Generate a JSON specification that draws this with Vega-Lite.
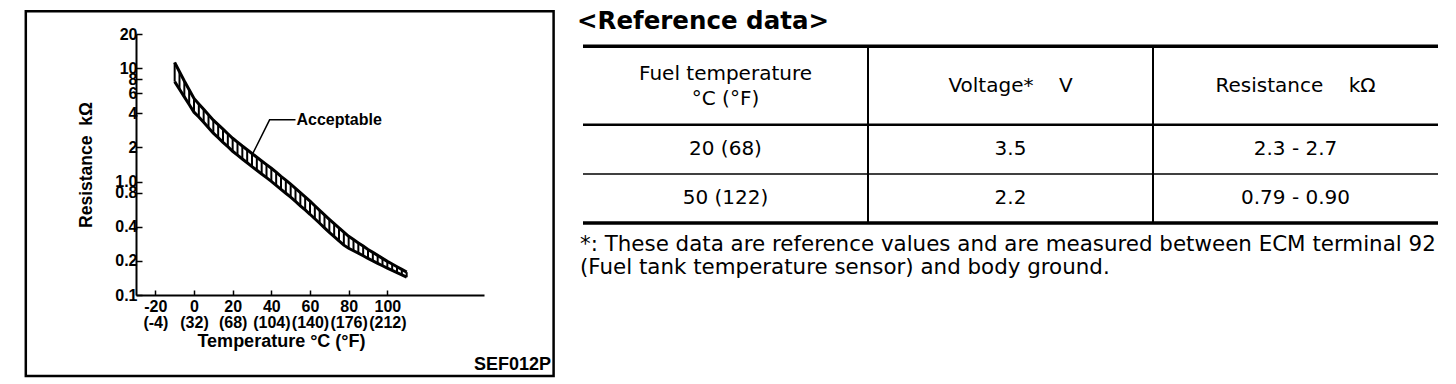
{
  "$schema": "https://vega.github.io/schema/vega-lite/v6.json",
  "background": "white",
  "padding": {"left": 24, "top": 8, "right": 0, "bottom": 0},
  "autosize": {"type": "pad"},
  "spacing": 22,
  "config": {
    "view": {"stroke": null},
    "font": "DejaVu Sans",
    "axis": {
      "grid": false,
      "domainColor": "black",
      "domainWidth": 2,
      "tickColor": "black",
      "tickWidth": 1.5,
      "labelColor": "black",
      "titleColor": "black",
      "labelFont": "Liberation Sans",
      "titleFont": "Liberation Sans",
      "labelFontSize": 16,
      "titleFontSize": 18,
      "labelFontWeight": "bold",
      "titleFontWeight": "bold"
    }
  },
  "datasets": {
    "band": [
      {"t": -10, "hi": 11.2, "lo": 7.6},
      {"t": -7.5, "hi": 9.3, "lo": 6.51},
      {"t": -5, "hi": 7.7, "lo": 5.58},
      {"t": -2.5, "hi": 6.45, "lo": 4.78},
      {"t": 0, "hi": 5.4, "lo": 4.09},
      {"t": 2.5, "hi": 4.84, "lo": 3.71},
      {"t": 5, "hi": 4.34, "lo": 3.33},
      {"t": 7.5, "hi": 3.89, "lo": 2.98},
      {"t": 10, "hi": 3.48, "lo": 2.67},
      {"t": 12.5, "hi": 3.18, "lo": 2.44},
      {"t": 15, "hi": 2.9, "lo": 2.22},
      {"t": 17.5, "hi": 2.64, "lo": 2.03},
      {"t": 20, "hi": 2.41, "lo": 1.85},
      {"t": 22.5, "hi": 2.23, "lo": 1.71},
      {"t": 25, "hi": 2.06, "lo": 1.58},
      {"t": 27.5, "hi": 1.91, "lo": 1.465},
      {"t": 30, "hi": 1.77, "lo": 1.355},
      {"t": 32.5, "hi": 1.64, "lo": 1.257},
      {"t": 35, "hi": 1.52, "lo": 1.167},
      {"t": 37.5, "hi": 1.41, "lo": 1.083},
      {"t": 40, "hi": 1.31, "lo": 1.005},
      {"t": 42.5, "hi": 1.21, "lo": 0.927},
      {"t": 45, "hi": 1.11, "lo": 0.855},
      {"t": 47.5, "hi": 1.03, "lo": 0.789},
      {"t": 50, "hi": 0.948, "lo": 0.728},
      {"t": 52.5, "hi": 0.87, "lo": 0.668},
      {"t": 55, "hi": 0.798, "lo": 0.612},
      {"t": 57.5, "hi": 0.732, "lo": 0.562},
      {"t": 60, "hi": 0.671, "lo": 0.515},
      {"t": 62.5, "hi": 0.612, "lo": 0.47},
      {"t": 65, "hi": 0.558, "lo": 0.429},
      {"t": 67.5, "hi": 0.509, "lo": 0.391},
      {"t": 70, "hi": 0.465, "lo": 0.356},
      {"t": 72.5, "hi": 0.426, "lo": 0.327},
      {"t": 75, "hi": 0.391, "lo": 0.3},
      {"t": 77.5, "hi": 0.358, "lo": 0.275},
      {"t": 80, "hi": 0.329, "lo": 0.258},
      {"t": 82.5, "hi": 0.308, "lo": 0.2455},
      {"t": 85, "hi": 0.288, "lo": 0.234},
      {"t": 87.5, "hi": 0.27, "lo": 0.2217},
      {"t": 90, "hi": 0.252, "lo": 0.21},
      {"t": 92.5, "hi": 0.2375, "lo": 0.2},
      {"t": 95, "hi": 0.2236, "lo": 0.1903},
      {"t": 97.5, "hi": 0.2104, "lo": 0.1812},
      {"t": 100, "hi": 0.198, "lo": 0.1726},
      {"t": 102.5, "hi": 0.1875, "lo": 0.1649},
      {"t": 105, "hi": 0.1776, "lo": 0.1576},
      {"t": 107.5, "hi": 0.1681, "lo": 0.1505},
      {"t": 110, "hi": 0.159, "lo": 0.1435}
    ],
    "leader": [
      {"t": 30.5, "v": 1.78},
      {"t": 39.1, "v": 3.5},
      {"t": 52.5, "v": 3.5}
    ],
    "cells": [
      {"col": 0.5, "row": 0.8, "text": "Fuel temperature\n°C (°F)", "lines": 2},
      {"col": 1.5, "row": 0.8, "text": "Voltage*\u00a0\u00a0\u00a0\u00a0V", "lines": 1},
      {"col": 2.5, "row": 0.8, "text": "Resistance\u00a0\u00a0\u00a0\u00a0kΩ", "lines": 1},
      {"col": 0.5, "row": 2.1, "text": "20 (68)", "lines": 1},
      {"col": 1.5, "row": 2.1, "text": "3.5", "lines": 1},
      {"col": 2.5, "row": 2.1, "text": "2.3 - 2.7", "lines": 1},
      {"col": 0.5, "row": 3.1, "text": "50 (122)", "lines": 1},
      {"col": 1.5, "row": 3.1, "text": "2.2", "lines": 1},
      {"col": 2.5, "row": 3.1, "text": "0.79 - 0.90", "lines": 1}
    ],
    "hlines": [
      {"row": 0, "weight": "heavy"},
      {"row": 1.6, "weight": "medium"},
      {"row": 2.6, "weight": "light"},
      {"row": 3.6, "weight": "heavy"}
    ],
    "vlines": [
      {"col": 1},
      {"col": 2}
    ],
    "one": [{}]
  },
  "hconcat": [
    {
      "width": 348,
      "height": 261,
      "layer": [
        {
          "data": {"name": "band"},
          "mark": {"type": "rule", "color": "black", "strokeWidth": 2},
          "encoding": {
            "x": {
              "field": "t", "type": "quantitative",
              "scale": {"domain": [-30, 150], "nice": false, "zero": false},
              "axis": {
                "title": "Temperature °C (°F)",
                "titleX": 145,
                "values": [-20, 0, 20, 40, 60, 80, 100],
                "labelExpr": "['' + datum.value, '(' + (datum.value * 9 / 5 + 32) + ')']",
                "labelLineHeight": 16,
                "tickSize": -5,
                "labelPadding": 8,
                "titlePadding": 2,
                "labelOverlap": false
              }
            },
            "y": {
              "field": "lo", "type": "quantitative",
              "scale": {"type": "log", "domain": [0.1, 20], "nice": false},
              "axis": {
                "title": "Resistance\u00a0\u00a0kΩ",
                "titleFontSize": 17.5,
                "values": [0.1, 0.2, 0.4, 0.8, 1, 2, 4, 6, 8, 10, 20],
                "labelExpr": "datum.value == 1 ? '1.0' : (datum.value < 1 ? format(datum.value, '.1f') : format(datum.value, 'd'))",
                "tickSize": -6,
                "labelPadding": 5,
                "titlePadding": 19,
                "labelOverlap": false,
                "labelBound": false
              }
            },
            "y2": {"field": "hi"}
          }
        },
        {
          "data": {"name": "band"},
          "mark": {"type": "line", "color": "black", "strokeWidth": 3},
          "encoding": {
            "x": {"field": "t", "type": "quantitative", "scale": {"domain": [-30, 150], "nice": false, "zero": false}},
            "y": {"field": "hi", "type": "quantitative", "scale": {"type": "log", "domain": [0.1, 20], "nice": false}}
          }
        },
        {
          "data": {"name": "band"},
          "mark": {"type": "line", "color": "black", "strokeWidth": 3},
          "encoding": {
            "x": {"field": "t", "type": "quantitative", "scale": {"domain": [-30, 150], "nice": false, "zero": false}},
            "y": {"field": "lo", "type": "quantitative", "scale": {"type": "log", "domain": [0.1, 20], "nice": false}}
          }
        },
        {
          "data": {"name": "leader"},
          "mark": {"type": "line", "color": "black", "strokeWidth": 1.5},
          "encoding": {
            "x": {"field": "t", "type": "quantitative", "scale": {"domain": [-30, 150], "nice": false, "zero": false}},
            "y": {"field": "v", "type": "quantitative", "scale": {"type": "log", "domain": [0.1, 20], "nice": false}}
          }
        },
        {
          "data": {"name": "one"},
          "mark": {"type": "text", "align": "left", "baseline": "middle", "font": "Liberation Sans", "fontSize": 16, "fontWeight": "bold", "color": "black", "dx": 1},
          "encoding": {
            "x": {"datum": 52.5, "type": "quantitative", "scale": {"domain": [-30, 150], "nice": false, "zero": false}},
            "y": {"datum": 3.5, "type": "quantitative", "scale": {"type": "log", "domain": [0.1, 20], "nice": false}},
            "text": {"value": "Acceptable"}
          }
        },
        {
          "data": {"name": "one"},
          "mark": {"type": "rect", "fill": null, "stroke": "black", "strokeWidth": 2.5, "clip": false},
          "encoding": {
            "x": {"datum": -87, "type": "quantitative", "scale": {"domain": [-30, 150], "nice": false, "zero": false}},
            "x2": {"datum": 186},
            "y": {"datum": 31.8, "type": "quantitative", "scale": {"type": "log", "domain": [0.1, 20], "nice": false}},
            "y2": {"datum": 0.0193}
          }
        },
        {
          "data": {"name": "one"},
          "mark": {"type": "text", "align": "right", "baseline": "middle", "font": "Liberation Sans", "fontSize": 18, "fontWeight": "bold", "color": "black"},
          "encoding": {
            "x": {"datum": 184.7, "type": "quantitative", "scale": {"domain": [-30, 150], "nice": false, "zero": false}},
            "y": {"datum": 0.0242, "type": "quantitative", "scale": {"type": "log", "domain": [0.1, 20], "nice": false}},
            "text": {"value": "SEF012P"}
          }
        }
      ]
    },
    {
      "width": 855,
      "height": 189,
      "layer": [
        {
          "data": {"name": "hlines"},
          "transform": [{"filter": "datum.weight == 'heavy'"}],
          "mark": {"type": "rule", "color": "black", "strokeWidth": 3.5},
          "encoding": {
            "x": {"datum": 0, "type": "quantitative", "scale": {"domain": [0, 3], "nice": false, "zero": false}, "axis": null},
            "x2": {"datum": 3},
            "y": {"field": "row", "type": "quantitative", "scale": {"domain": [-0.25, 3.6], "reverse": true, "nice": false, "zero": false}, "axis": null}
          }
        },
        {
          "data": {"name": "hlines"},
          "transform": [{"filter": "datum.weight == 'medium'"}],
          "mark": {"type": "rule", "color": "black", "strokeWidth": 2.5},
          "encoding": {
            "x": {"datum": 0, "type": "quantitative", "scale": {"domain": [0, 3], "nice": false, "zero": false}, "axis": null},
            "x2": {"datum": 3},
            "y": {"field": "row", "type": "quantitative", "scale": {"domain": [-0.25, 3.6], "reverse": true, "nice": false, "zero": false}, "axis": null}
          }
        },
        {
          "data": {"name": "hlines"},
          "transform": [{"filter": "datum.weight == 'light'"}],
          "mark": {"type": "rule", "color": "black", "strokeWidth": 1.5},
          "encoding": {
            "x": {"datum": 0, "type": "quantitative", "scale": {"domain": [0, 3], "nice": false, "zero": false}, "axis": null},
            "x2": {"datum": 3},
            "y": {"field": "row", "type": "quantitative", "scale": {"domain": [-0.25, 3.6], "reverse": true, "nice": false, "zero": false}, "axis": null}
          }
        },
        {
          "data": {"name": "vlines"},
          "mark": {"type": "rule", "color": "black", "strokeWidth": 2},
          "encoding": {
            "x": {"field": "col", "type": "quantitative", "scale": {"domain": [0, 3], "nice": false, "zero": false}, "axis": null},
            "y": {"datum": 0, "type": "quantitative", "scale": {"domain": [-0.25, 3.6], "reverse": true, "nice": false, "zero": false}, "axis": null},
            "y2": {"datum": 3.6}
          }
        },
        {
          "data": {"name": "cells"},
          "transform": [{"filter": "datum.lines == 1"}],
          "mark": {"type": "text", "align": "center", "baseline": "middle", "fontSize": 20, "color": "black"},
          "encoding": {
            "x": {"field": "col", "type": "quantitative", "scale": {"domain": [0, 3], "nice": false, "zero": false}, "axis": null},
            "y": {"field": "row", "type": "quantitative", "scale": {"domain": [-0.25, 3.6], "reverse": true, "nice": false, "zero": false}, "axis": null},
            "text": {"field": "text"}
          }
        },
        {
          "data": {"name": "cells"},
          "transform": [{"filter": "datum.lines == 2"}],
          "mark": {"type": "text", "align": "center", "baseline": "middle", "fontSize": 20, "lineHeight": 25, "lineBreak": "\n", "dy": -12, "color": "black"},
          "encoding": {
            "x": {"field": "col", "type": "quantitative", "scale": {"domain": [0, 3], "nice": false, "zero": false}, "axis": null},
            "y": {"field": "row", "type": "quantitative", "scale": {"domain": [-0.25, 3.6], "reverse": true, "nice": false, "zero": false}, "axis": null},
            "text": {"field": "text"}
          }
        },
        {
          "data": {"name": "one"},
          "mark": {"type": "text", "align": "left", "baseline": "middle", "fontSize": 24.5, "fontWeight": "bold", "color": "black", "dx": -6, "clip": false},
          "encoding": {
            "x": {"datum": 0, "type": "quantitative", "scale": {"domain": [0, 3], "nice": false, "zero": false}, "axis": null},
            "y": {"datum": -0.495, "type": "quantitative", "scale": {"domain": [-0.25, 3.6], "reverse": true, "nice": false, "zero": false}, "axis": null},
            "text": {"value": "<Reference data>"}
          }
        },
        {
          "data": {"name": "one"},
          "mark": {"type": "text", "align": "left", "baseline": "top", "fontSize": 21.4, "lineHeight": 23, "lineBreak": "\n", "color": "black", "dx": -3, "clip": false},
          "encoding": {
            "x": {"datum": 0, "type": "quantitative", "scale": {"domain": [0, 3], "nice": false, "zero": false}, "axis": null},
            "y": {"datum": 3.82, "type": "quantitative", "scale": {"domain": [-0.25, 3.6], "reverse": true, "nice": false, "zero": false}, "axis": null},
            "text": {"value": "*: These data are reference values and are measured between ECM terminal 92\n(Fuel tank temperature sensor) and body ground."}
          }
        }
      ]
    }
  ]
}
